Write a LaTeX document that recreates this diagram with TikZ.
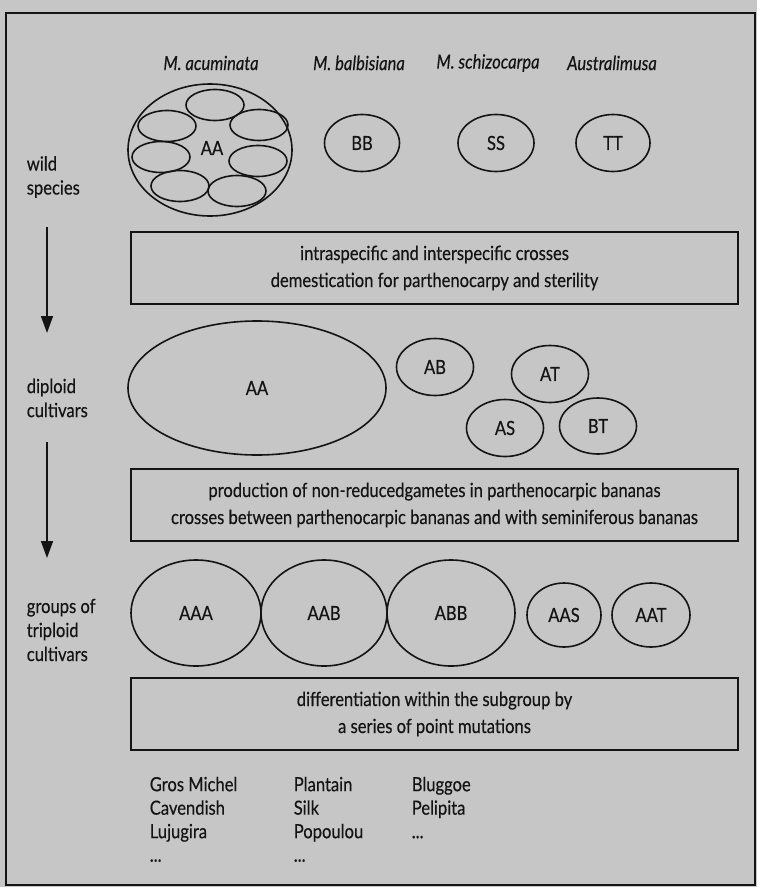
\documentclass[tikz,border=0pt]{standalone}
\usepackage{fontspec}
\setmainfont{Lato}[FakeStretch=0.85,FakeBold=0.35]
\usetikzlibrary{shapes, arrows.meta, positioning}
\definecolor{paper}{RGB}{198,198,198}
\definecolor{ink}{RGB}{20,20,20}
\newcommand{\txtsize}{\fontsize{19.5}{27}\selectfont}

\begin{document}
\begin{tikzpicture}[x=1pt,y=-1pt,line width=1.6pt,draw=ink,text=ink,font=\txtsize]
            \tikzset{
                geno/.style={draw,ellipse,inner sep=0pt},
                subgeno/.style={geno,minimum width=58pt,minimum height=31pt},
                crossbox/.style={draw,rectangle,minimum width=607pt,minimum height=72pt,align=center},
                sidetext/.style={anchor=west,align=left,inner sep=0pt,font=\fontsize{19.5}{24}\selectfont},
                listtext/.style={anchor=north west,align=left,inner sep=0pt,font=\fontsize{19.5}{23.5}\selectfont},
                species/.style={font=\txtsize\itshape}
            }
            \useasboundingbox (0,0) rectangle (763,889);
            \fill[white] (0,0) rectangle (763,889);
            \fill[paper] (0,0) rectangle (757,887);
            \draw[line width=1.8pt] (6,13) rectangle (755,885);

            % wild species
            \node[species] (lab_acu) at (211,63) {M. acuminata};
            \node[species] (lab_bal) at (359,63) {M. balbisiana};
            \node[species] (lab_sch) at (488,63) {M. schizocarpa};
            \node[species] (lab_aus) at (612,63) {Australimusa};

            \node[geno,minimum width=164pt,minimum height=132pt] (w_AA) at (210,150) {};
            \node[subgeno] (w_a1) at (215,105) {};
            \node[subgeno] (w_a2) at (167,126) {};
            \node[subgeno] (w_a3) at (259,125) {};
            \node[subgeno] (w_a4) at (161,157) {};
            \node[subgeno] (w_a5) at (258,161) {};
            \node[subgeno] (w_a6) at (180,186) {};
            \node[subgeno] (w_a7) at (237,191) {};
            \node (w_AA_txt) at (212,148) {AA};

            \node[geno,minimum width=75pt,minimum height=57pt] (w_BB) at (362,143) {BB};
            \node[geno,minimum width=76pt,minimum height=57pt] (w_SS) at (496,143) {SS};
            \node[geno,minimum width=74pt,minimum height=57pt] (w_TT) at (613,143) {TT};

            \node[sidetext] (side_wild) at (26,177) {wild\\species};

            \node[crossbox] (box_1) at (434.5,268) {intraspecific and interspecific crosses\\demestication for parthenocarpy and sterility};

            \coordinate (arr1_s) at (47,227);
            \coordinate (arr1_e) at (47,333);
            \draw[-{Triangle[length=17pt,width=12pt]}] (arr1_s) -- (arr1_e);

            % diploid cultivars
            \node[geno,minimum width=258pt,minimum height=134pt] (d_AA) at (257,388) {AA};
            \node[geno,minimum width=77pt,minimum height=57pt] (d_AB) at (435,367) {AB};
            \node[geno,minimum width=77pt,minimum height=57pt] (d_AT) at (550,374) {AT};
            \node[geno,minimum width=77pt,minimum height=57pt] (d_AS) at (505,428) {AS};
            \node[geno,minimum width=77pt,minimum height=56pt] (d_BT) at (598,426) {BT};

            \node[sidetext] (side_dipl) at (26,398) {diploid\\cultivars};

            \node[crossbox] (box_2) at (434.5,505) {production of non-reducedgametes in parthenocarpic bananas\\crosses between parthenocarpic bananas and with seminiferous bananas};

            \coordinate (arr2_s) at (47,442);
            \coordinate (arr2_e) at (47,558);
            \draw[-{Triangle[length=17pt,width=12pt]}] (arr2_s) -- (arr2_e);

            % triploid cultivars
            \node[geno,minimum width=130pt,minimum height=106pt] (t_AAA) at (196,613) {AAA};
            \node[geno,minimum width=126pt,minimum height=106pt] (t_AAB) at (324,613) {AAB};
            \node[geno,minimum width=128pt,minimum height=106pt] (t_ABB) at (451,613) {ABB};
            \node[geno,minimum width=74pt,minimum height=64pt] (t_AAS) at (564,615) {AAS};
            \node[geno,minimum width=78pt,minimum height=64pt] (t_AAT) at (651,615) {AAT};

            \node[sidetext] (side_trip) at (26,630) {groups of\\triploid\\cultivars};

            \node[crossbox] (box_3) at (434.5,714) {differentiation within the subgroup by\\a series of point mutations};

            % cultivar lists
            \node[listtext] (list_1) at (149,776) {Gros Michel\\Cavendish\\Lujugira\\...};
            \node[listtext] (list_2) at (293,776) {Plantain\\Silk\\Popoulou\\...};
            \node[listtext] (list_3) at (411,776) {Bluggoe\\Pelipita\\...};
        \end{tikzpicture}
\end{document}
